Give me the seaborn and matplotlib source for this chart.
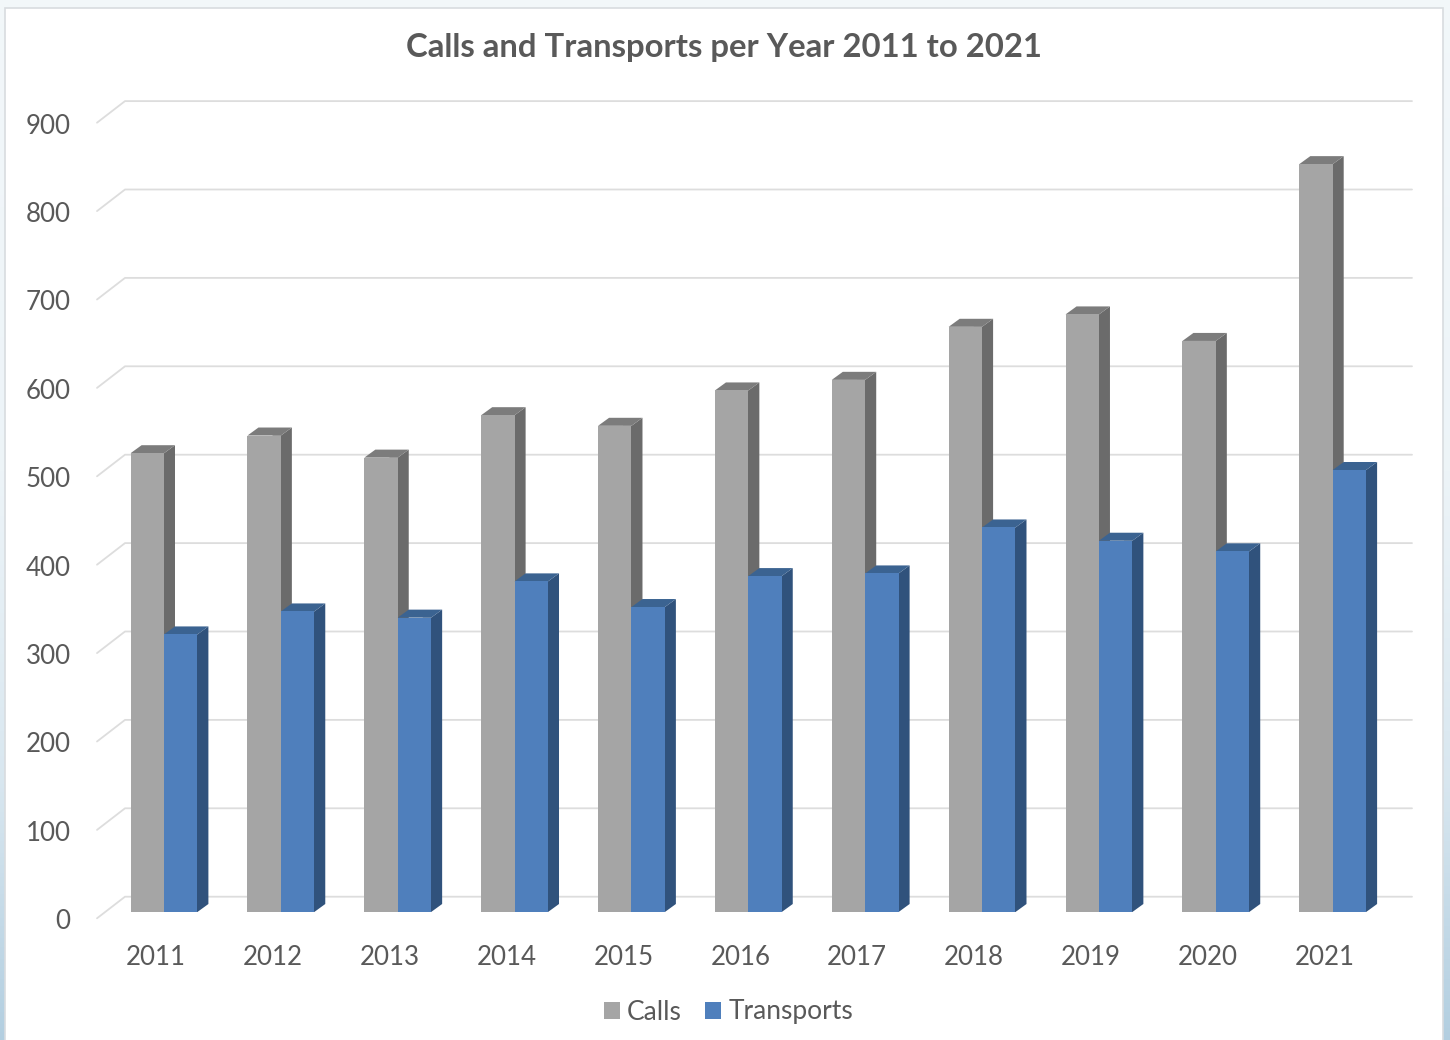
import matplotlib
matplotlib.use("Agg")
import matplotlib.pyplot as plt
from matplotlib.patches import Polygon, Rectangle
from matplotlib.transforms import ScaledTranslation
import numpy as np
import pandas as pd
import seaborn as sns

years = ["2011", "2012", "2013", "2014", "2015", "2016", "2017", "2018", "2019", "2020", "2021"]
calls = [519, 539, 514, 562, 550, 590, 602, 662, 676, 646, 846]
transports = [314, 340, 333, 374, 345, 380, 383, 435, 420, 408, 500]
y_ticks = [0, 100, 200, 300, 400, 500, 600, 700, 800, 900]

W, H = 1450, 1040
# where the chart sits on the canvas, in pixels
LEFT, RIGHT, BASE, TOP = 97, 1412, 912, 100
PX_X = 116.87  # pixels per category
PX_Y = 0.884  # pixels per call
FIRST_X = 164

TEXT = "#595959"
GRID = "#DDDDDD"
FACES = {
    "Calls": ("#A5A5A5", "#6B6B6B", "#7C7C7C"),
    "Transports": ("#4F7FBC", "#30527C", "#3B6391"),
}

sns.set_theme(style="white")
plt.rcParams["font.family"] = ["Lato", "DejaVu Sans"]

fig = plt.figure(figsize=(W / 100, H / 100), dpi=100)

# slide background around the chart frame
bg = fig.add_axes([0, 0, 1, 1], zorder=0)
stops = np.interp(np.linspace(0, 1, 256), [0, 0.45, 0.75, 1], [0, 0.08, 0.4, 1])
top_col = np.array([0.95, 0.97, 0.98])
bot_col = np.array([0.70, 0.81, 0.88])
grad = top_col + stops[:, None] * (bot_col - top_col)
bg.imshow(grad[:, None, :], extent=[0, W, H, 0], aspect="auto")
bg.add_patch(Rectangle((5, 7.5), 1438, H, fc="white", ec="#D8DCDF", lw=1.2))
bg.set_xlim(0, W)
bg.set_ylim(H, 0)
bg.axis("off")

ax = fig.add_axes(
    [LEFT / W, 1 - BASE / H, (RIGHT - LEFT) / W, (BASE - TOP) / H], zorder=1
)
ax.patch.set_visible(False)

df = pd.DataFrame({"year": years, "Calls": calls, "Transports": transports})
df = df.melt(id_vars="year", var_name="series", value_name="count")
sns.barplot(
    data=df, x="year", y="count", hue="series", ax=ax,
    palette={k: v[0] for k, v in FACES.items()},
    width=0.5716, gap=0, saturation=1, linewidth=0,
)

ax.set_xlim((LEFT - FIRST_X) / PX_X, (RIGHT - FIRST_X) / PX_X)
ax.set_ylim(0, (BASE - TOP) / PX_Y)

# 3d look: side and top faces taken from each drawn bar
dx, dy = 11 / PX_X, 8 / PX_Y
for z, (cont, name) in enumerate(zip(ax.containers, FACES)):
    side_col, top_col_ = FACES[name][1], FACES[name][2]
    for bar in cont:
        x0, w, h = bar.get_x(), bar.get_width(), bar.get_height()
        x1 = x0 + w
        # side starts a bit under the front face so no seam shows
        ax.add_patch(Polygon(
            [(x1 - w / 4, 0), (x1, 0), (x1 + dx, dy), (x1 + dx, h + dy), (x1, h), (x1 - w / 4, h)],
            fc=side_col, lw=0, zorder=3 + z * 2, clip_on=False,
        ))
        ax.add_patch(Polygon(
            [(x0, h), (x0 + dx, h + dy), (x1 + dx, h + dy), (x1, h)],
            fc=top_col_, lw=0, zorder=3 + z * 2, clip_on=False,
        ))
        bar.set_zorder(4 + z * 2)

# gridlines run along the back wall, with a slanted bit on the floor
wall_x = ax.get_xlim()[0] + 28 / PX_X
for v in y_ticks:
    ax.plot(
        [ax.get_xlim()[0], wall_x, ax.get_xlim()[1]],
        [v - 6.3 / PX_Y, v + 15.3 / PX_Y, v + 15.3 / PX_Y],
        color=GRID, lw=1.3, zorder=1, clip_on=False,
    )

ax.set_xlabel("")
ax.set_ylabel("")
ax.set_yticks(y_ticks)
ax.set_xticks(range(len(years)))
ax.set_xticklabels(years)
ax.tick_params(axis="y", length=0, pad=19, labelsize=18.6, labelcolor=TEXT)
ax.tick_params(axis="x", length=0, pad=23.5, labelsize=18.6, labelcolor=TEXT)
for lab in ax.get_yticklabels():
    lab.set_transform(lab.get_transform() + ScaledTranslation(0, -7.3 / 100, fig.dpi_scale_trans))
for lab in ax.get_xticklabels():
    lab.set_transform(lab.get_transform() + ScaledTranslation(-8 / 100, 0, fig.dpi_scale_trans))
sns.despine(ax=ax, left=True, bottom=True)

fig.text(
    724 / W, 1 - 47.5 / H, "Calls and Transports per Year 2011 to 2021",
    ha="center", va="center", fontsize=23.7, fontweight="bold", color=TEXT,
)

handles, labels = ax.get_legend_handles_labels()
ax.legend(
    handles, labels, ncol=2, frameon=False, loc="center",
    bbox_to_anchor=(728.5 / W, 1 - 1012 / H), bbox_transform=fig.transFigure,
    fontsize=19, labelcolor=TEXT, handlelength=0.6, handleheight=0.6,
    handletextpad=0.27, columnspacing=0.9, borderpad=0,
)

fig.savefig("out.png", dpi=100)
